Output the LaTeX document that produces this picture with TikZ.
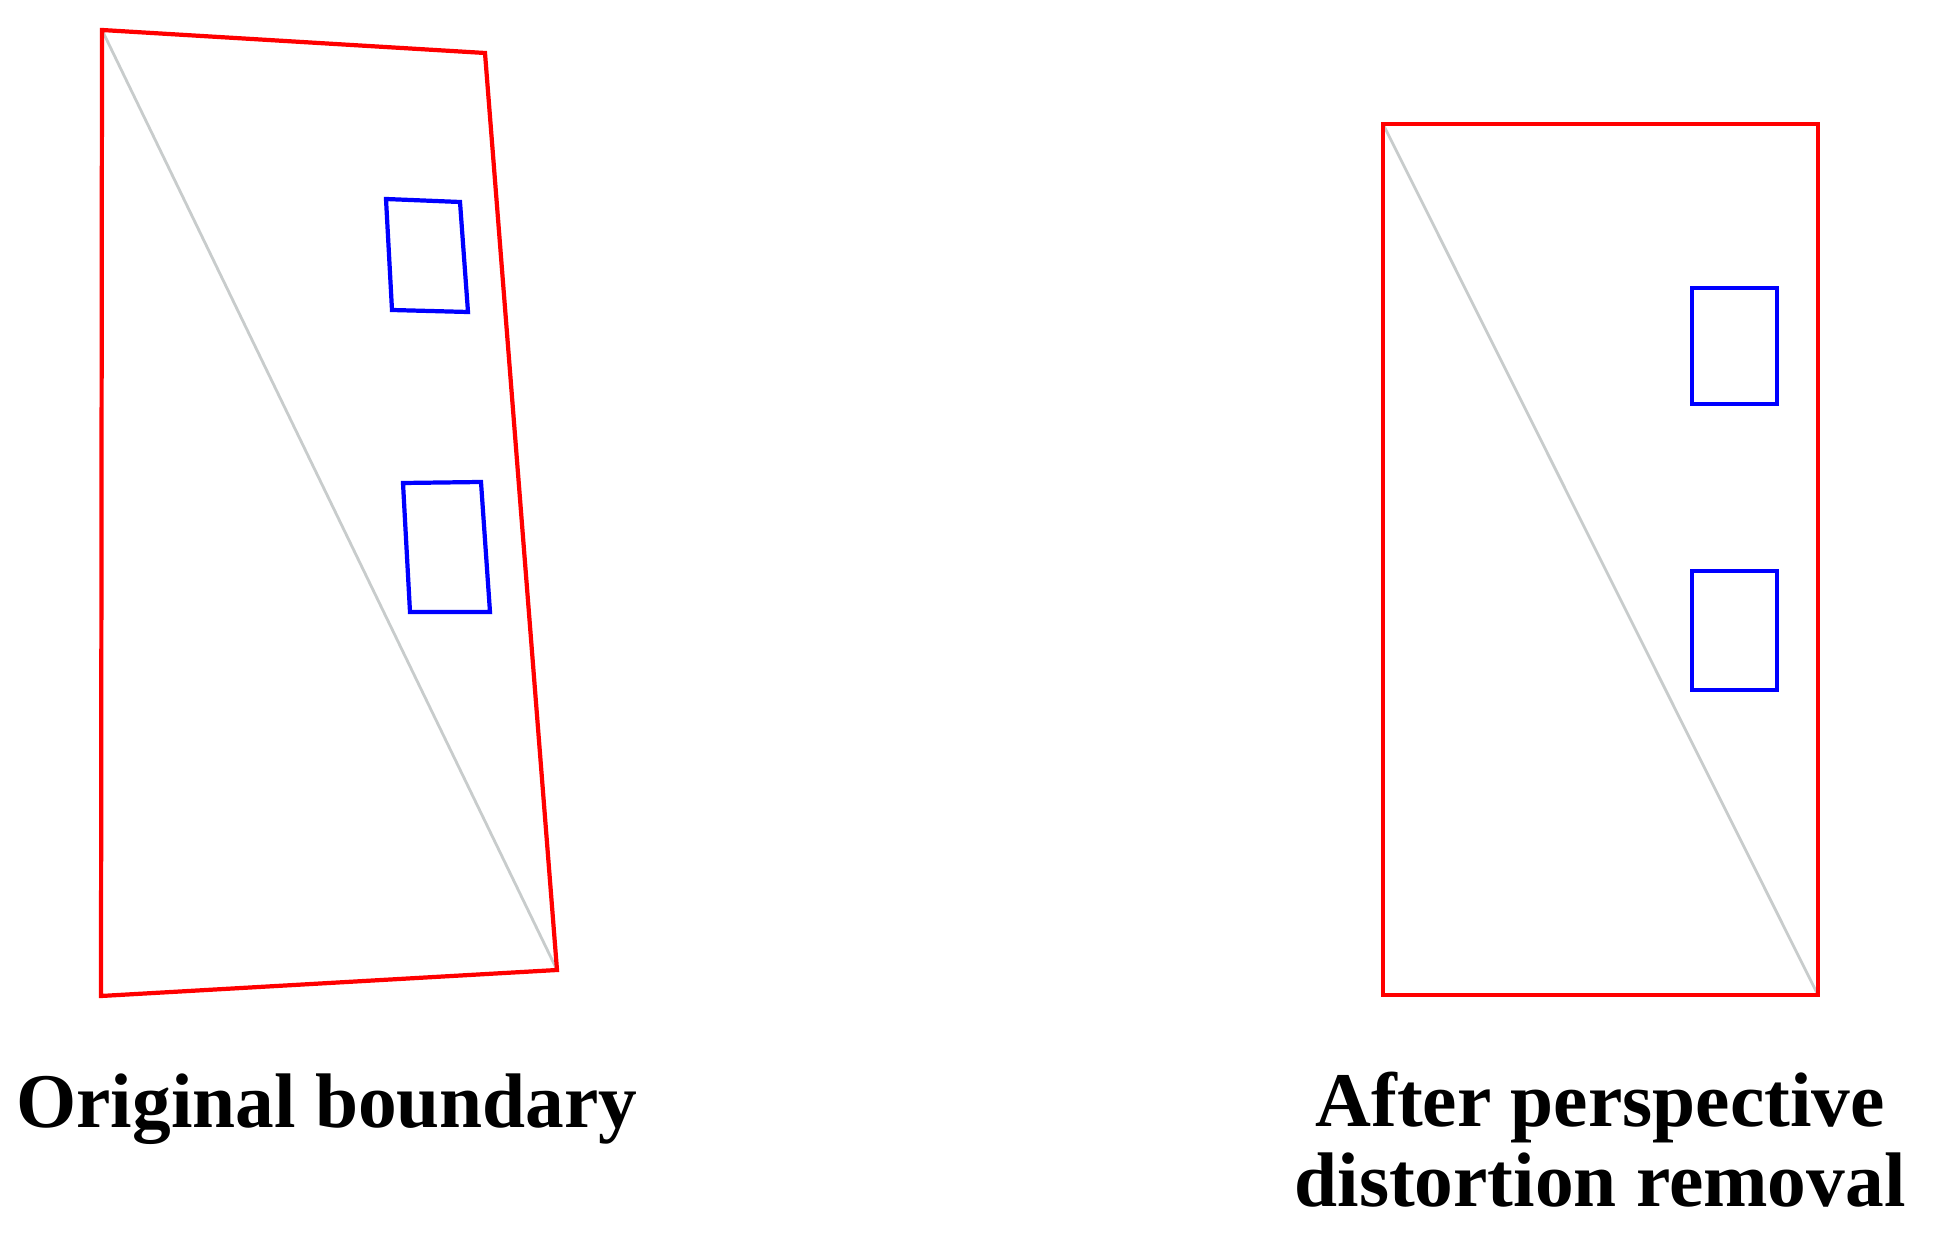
\documentclass[tikz,border=0pt]{standalone}
\usepackage{fontspec}
\setmainfont{Liberation Serif}
\usetikzlibrary{positioning}

\definecolor{diaggray}{RGB}{200,204,204}
\tikzset{
  boundary/.style={draw=red,line width=1.2pt,line join=miter},
  window/.style={draw=blue,line width=1.2pt,line join=miter},
  diag/.style={draw=diaggray,line width=0.8pt},
  caption/.style={font=\bfseries\fontsize{22}{23}\selectfont,align=center,anchor=base,inner sep=0pt}
}

\begin{document}
\begin{tikzpicture}[x=0.01cm,y=-0.01cm]
\useasboundingbox (0,0) rectangle (1941,1249);
% original boundary
\coordinate (o1) at (102,30);
\coordinate (o2) at (485,53);
\coordinate (o3) at (557,970);
\coordinate (o4) at (101,996);
\draw[diag] (o1) -- (o3);
\draw[boundary] (o1) -- (o2) -- (o3) -- (o4) -- cycle;
\draw[window] (386,199) -- (460,202) -- (468,312) -- (392,310) -- cycle;
\draw[window] (403,483) -- (481,482) -- (490,612) -- (410,612) -- cycle;
\node[caption] (orig) at (327,1127) {Original boundary};
% after perspective distortion removal
\coordinate (r1) at (1383,124);
\coordinate (r2) at (1818,124);
\coordinate (r3) at (1818,995);
\coordinate (r4) at (1383,995);
\draw[diag] (r1) -- (r3);
\draw[boundary] (r1) -- (r2) -- (r3) -- (r4) -- cycle;
\draw[window] (1692,288) rectangle (1777,404);
\draw[window] (1692,571) rectangle (1777,690);
\node[caption] (after) at (1600,1207) {After perspective\\distortion removal};
\end{tikzpicture}
\end{document}
